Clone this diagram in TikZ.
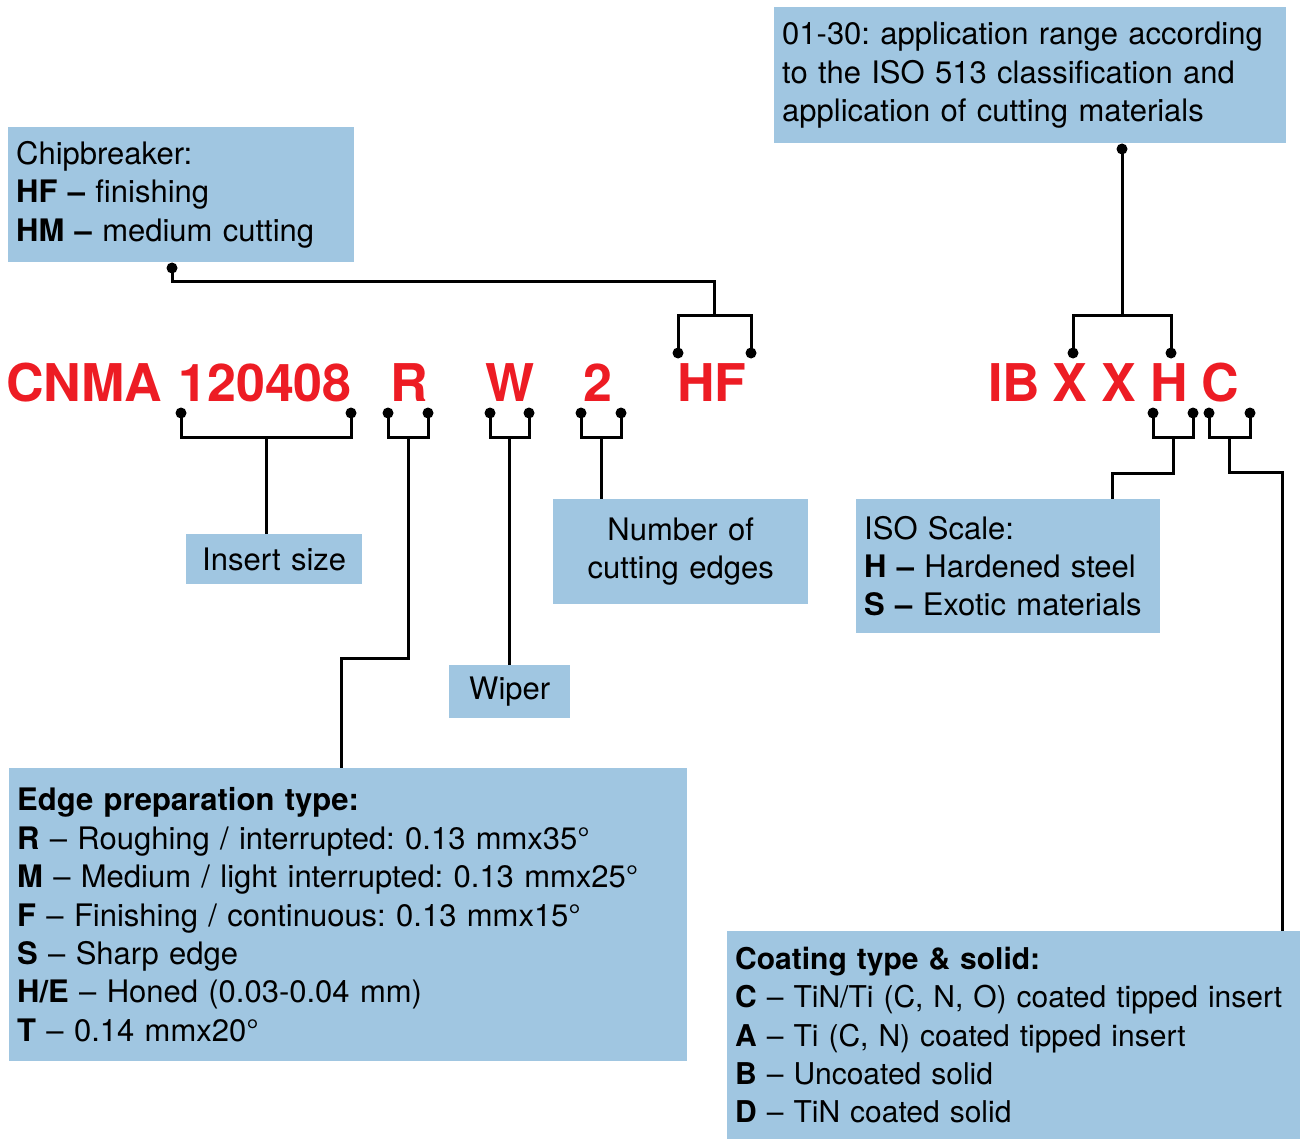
\documentclass[tikz,border=0pt]{standalone}
\usepackage{fontspec}
\setmainfont{TeX Gyre Heros}
\usetikzlibrary{positioning,calc}
\frenchspacing
\hyphenpenalty=10000
\definecolor{infoblue}{RGB}{160,198,225}
\definecolor{codered}{RGB}{237,28,36}
\tikzset{
  infobox/.style={fill=infoblue, anchor=north west, inner xsep=8pt, inner ysep=0pt,
                  align=left, text=black, font=\fontsize{31}{38.4}\selectfont},
  codetxt/.style={text=codered, anchor=base, inner sep=0pt,
                  font=\fontsize{52}{60}\selectfont\bfseries},
  brk/.style={draw=black, line width=3pt},
}
% pair of pins with a bracket: name, x left, x right, y pins, y bar
\newcommand{\pinpair}[5]{%
  \coordinate (#1-a) at (#2,#4);
  \coordinate (#1-b) at (#3,#4);
  \coordinate (#1-m) at ({(#2+#3)/2},#5);
  \draw[brk] (#1-a) |- (#1-m) -| (#1-b);
  \fill (#1-a) circle (5.5pt);
  \fill (#1-b) circle (5.5pt);}

\begin{document}
\begin{tikzpicture}[x=1pt,y=-1pt]
    \useasboundingbox (0,0) rectangle (1300,1139);

      % code line
      \node[codetxt, anchor=base west] (cnma) at (6,401) {CNMA};
      \node[codetxt] (size)   at (265,401)  {120408};
      \node[codetxt] (rtype)  at (409,401)  {R};
      \node[codetxt] (wiper)  at (510,401)  {W};
      \node[codetxt] (edges)  at (598,401)  {2};
      \node[codetxt] (chip)   at (712,401)  {HF};
      \node[codetxt] (ib)     at (1014,401) {IB};
      \node[codetxt] (xa)     at (1070,401) {X};
      \node[codetxt] (xb)     at (1119,401) {X};
      \node[codetxt] (hgrade) at (1169,401) {H};
      \node[codetxt] (ctype)  at (1220,401) {C};

      % boxes
      \node[infobox, text width=330pt, minimum height=135pt] (chipbox) at (8,127)
        {Chipbreaker:\\\textbf{HF –} finishing\\\textbf{HM –} medium cutting};
      \node[infobox, text width=496pt, minimum height=136pt] (gradebox) at (774,7)
        {01-30: application range according\\to the ISO 513 classification and\\application of cutting materials};
      \node[infobox, align=center, text width=160pt, minimum height=50pt] (sizebox) at (186,534)
        {Insert size};
      \node[infobox, align=center, text width=239pt, minimum height=105pt] (edgesbox) at (553,499)
        {Number of\\cutting edges};
      \node[infobox, align=center, text width=105pt, minimum height=53pt] (wiperbox) at (449,665)
        {Wiper};
      \node[infobox, text width=288pt, minimum height=134pt] (isobox) at (856,499)
        {ISO Scale:\\\textbf{H –} Hardened steel\\\textbf{S –} Exotic materials};
      \node[infobox, text width=662pt, minimum height=293pt] (prepbox) at (9,768)
        {\textbf{Edge preparation type:}\\
         \textbf{R} – Roughing / interrupted: 0.13 mmx35°\\
         \textbf{M} – Medium / light interrupted: 0.13 mmx25°\\
         \textbf{F} – Finishing / continuous: 0.13 mmx15°\\
         \textbf{S} – Sharp edge\\
         \textbf{H/E} – Honed (0.03-0.04 mm)\\
         \textbf{T} – 0.14 mmx20°};
      \node[infobox, font=\fontsize{30}{38.4}\selectfont, text width=557pt, minimum height=208pt] (coatbox) at (727,931)
        {\textbf{Coating type \& solid:}\\
         \textbf{C} – TiN/Ti (C, N, O) coated tipped insert\\
         \textbf{A} – Ti (C, N) coated tipped insert\\
         \textbf{B} – Uncoated solid\\
         \textbf{D} – TiN coated solid};

      % pins and brackets
      \pinpair{sz}{181}{351}{413}{437}
      \pinpair{rt}{388}{428}{413}{437}
      \pinpair{wp}{490}{529}{413}{437}
      \pinpair{ne}{581}{621}{413}{437}
      \pinpair{hf}{678}{751}{353}{316}
      \pinpair{gr}{1073}{1171}{353}{316}
      \pinpair{hg}{1153}{1193}{413}{437}
      \pinpair{ct}{1209}{1250}{413}{437}

      % connectors
      \coordinate (chip-pin) at (172,268);
      \coordinate (gr-pin) at (1122,149);
      \coordinate (rt-k) at (341,658);
      \coordinate (hg-k) at (1112,473);
      \coordinate (ct-k) at (1282,472);

      \draw[brk] (sz-m) -- (sz-m |- sizebox.north);
      \draw[brk] (rt-m) |- (rt-k) -- (rt-k |- prepbox.north);
      \draw[brk] (wp-m) -- (wp-m |- wiperbox.north);
      \draw[brk] (ne-m) -- (ne-m |- edgesbox.north);
      \draw[brk] (hf-m) -- ++(0,-34) -| (chip-pin);
      \fill (chip-pin) circle (5.5pt);
      \draw[brk] (gr-m) -- (gr-pin);
      \fill (gr-pin) circle (5.5pt);
      \draw[brk] (hg-m) |- (hg-k) -- (hg-k |- isobox.north);
      \draw[brk] (ct-m) |- (ct-k) -- (ct-k |- coatbox.north);

    \end{tikzpicture}
\end{document}
